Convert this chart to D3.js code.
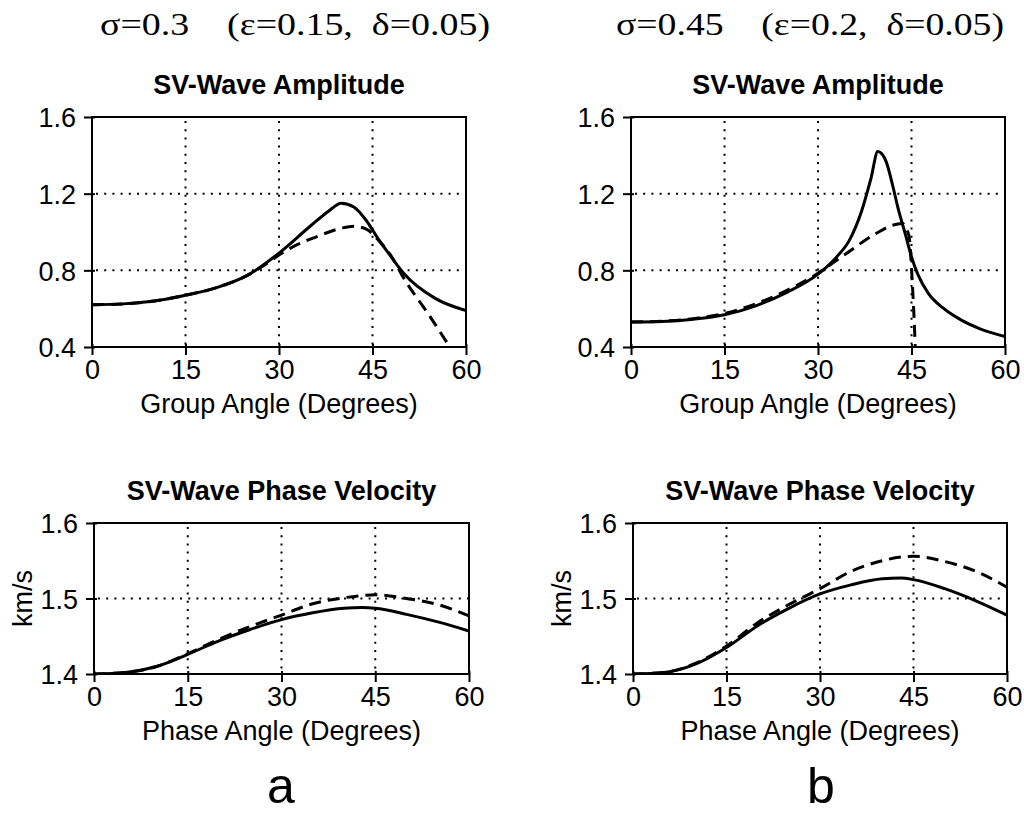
<!DOCTYPE html>
<html>
<head>
<meta charset="utf-8">
<script src="https://cdn.jsdelivr.net/npm/d3@7"></script>
<style>
  html, body { margin: 0; padding: 0; background: #fff; }
  svg { display: block; }
  text { fill: #000; }
</style>
</head>
<body>
<svg id="chart" width="1024" height="815"></svg>
<script>
// ---- data -------------------------------------------------------------
const angleTicks = [0, 15, 30, 45, 60];
const ampTicks = [0.4, 0.8, 1.2, 1.6];
const velTicks = [1.4, 1.5, 1.6];

// (a) sigma = 0.3 : SV-wave amplitude vs group angle
const ampAnglesA_exact = [0, 5, 10, 15, 20, 25, 30, 35, 38, 40, 42, 44, 46, 48, 50, 55, 60];
const ampValuesA_exact = [0.62, 0.625, 0.64, 0.67, 0.71, 0.775, 0.89, 1.03, 1.11, 1.15, 1.13, 1.06, 0.96, 0.87, 0.785, 0.655, 0.59];
const ampAnglesA_weak = [0, 5, 10, 15, 20, 25, 28, 30, 33, 36, 40, 42, 44, 46, 48, 50, 54, 57];
const ampValuesA_weak = [0.62, 0.625, 0.64, 0.67, 0.71, 0.775, 0.835, 0.88, 0.935, 0.975, 1.02, 1.03, 1.015, 0.955, 0.875, 0.76, 0.57, 0.42];

// (b) sigma = 0.45 : SV-wave amplitude vs group angle
const ampAnglesB_exact = [0, 5, 10, 15, 20, 25, 30, 33, 35, 37, 38.5, 39.6, 40.9, 42, 42.8, 44, 45, 46, 47.7, 50, 53, 56, 60];
const ampValuesB_exact = [0.53, 0.533, 0.545, 0.568, 0.615, 0.685, 0.78, 0.87, 0.955, 1.11, 1.28, 1.42, 1.37, 1.24, 1.13, 0.99, 0.87, 0.78, 0.68, 0.605, 0.54, 0.495, 0.455];
const ampAnglesB_weak = [0, 5, 10, 15, 20, 25, 30, 34.2, 39.2, 41.9, 43.5, 44.6, 45.1, 45.4, 45.6];
const ampValuesB_weak = [0.53, 0.535, 0.548, 0.575, 0.625, 0.695, 0.785, 0.88, 0.99, 1.035, 1.045, 0.98, 0.75, 0.56, 0.40];

// (a) sigma = 0.3 : SV-wave phase velocity vs phase angle (km/s)
const velAngles = [0, 5, 10, 15, 20, 25, 30, 35, 40, 43, 45, 50, 55, 60];
const velValuesA_exact = [1.4, 1.402, 1.41, 1.426, 1.444, 1.459, 1.472, 1.481, 1.487, 1.488, 1.487, 1.479, 1.469, 1.457];
const velValuesA_weak = [1.4, 1.402, 1.41, 1.427, 1.446, 1.463, 1.478, 1.493, 1.501, 1.504, 1.505, 1.5, 1.492, 1.477];

// (b) sigma = 0.45 : SV-wave phase velocity vs phase angle (km/s)
const velValuesB_exact = [1.4, 1.402, 1.413, 1.435, 1.464, 1.487, 1.506, 1.518, 1.526, 1.527, 1.525, 1.513, 1.497, 1.478];
const velValuesB_weak = [1.4, 1.402, 1.414, 1.437, 1.468, 1.492, 1.513, 1.536, 1.55, 1.555, 1.556, 1.549, 1.536, 1.515];

// ---- drawing ----------------------------------------------------------
const svg = d3.select("#chart");
const SANS = "'Liberation Sans', Arial, Helvetica, sans-serif";
const SERIF = "'Liberation Serif', 'Times New Roman', serif";

function zip(xs, ys) { return xs.map((x, i) => [x, ys[i]]); }

let clipCount = 0;
function panel(opt) {
  const x = d3.scaleLinear().domain([0, 60]).range([opt.left, opt.right]);
  const y = d3.scaleLinear().domain(opt.yDomain).range([opt.bottom, opt.top]);
  const g = svg.append("g");

  // dotted grid
  g.selectAll("line.vgrid").data([15, 30, 45]).join("line")
    .attr("x1", d => x(d)).attr("x2", d => x(d))
    .attr("y1", opt.top + 4).attr("y2", opt.bottom)
    .attr("stroke", "#000").attr("stroke-width", 2)
    .attr("stroke-dasharray", "2,6.2");
  g.selectAll("line.hgrid").data(opt.yGrid).join("line")
    .attr("x1", opt.left + 4).attr("x2", opt.right)
    .attr("y1", d => y(d)).attr("y2", d => y(d))
    .attr("stroke", "#000").attr("stroke-width", 2)
    .attr("stroke-dasharray", "2,6.2");

  // curves
  const id = "clip" + (clipCount++);
  svg.append("clipPath").attr("id", id).append("rect")
    .attr("x", opt.left).attr("y", opt.top)
    .attr("width", opt.right - opt.left).attr("height", opt.bottom - opt.top);
  const line = d3.line().x(d => x(d[0])).y(d => y(d[1])).curve(d3.curveMonotoneX);
  const cg = g.append("g").attr("clip-path", `url(#${id})`);
  cg.append("path").datum(opt.weak).attr("d", line)
    .attr("fill", "none").attr("stroke", "#000").attr("stroke-width", 3)
    .attr("stroke-dasharray", "12,7");
  cg.append("path").datum(opt.exact).attr("d", line)
    .attr("fill", "none").attr("stroke", "#000").attr("stroke-width", 3);

  // frame
  g.append("rect")
    .attr("x", opt.left).attr("y", opt.top)
    .attr("width", opt.right - opt.left).attr("height", opt.bottom - opt.top)
    .attr("fill", "none").attr("stroke", "#000").attr("stroke-width", 2);

  // axes
  const xa = g.append("g").attr("transform", `translate(0,${opt.bottom})`)
    .call(d3.axisBottom(x).tickValues(angleTicks).tickSizeInner(8).tickSizeOuter(0).tickPadding(5));
  xa.select(".domain").remove();
  xa.selectAll(".tick line").attr("y1", -3).attr("stroke-width", 2);
  xa.selectAll(".tick text")
    .attr("font-family", SANS).attr("font-size", 27).attr("dy", "0.72em");

  const ya = g.append("g").attr("transform", `translate(${opt.left},0)`)
    .call(d3.axisLeft(y).tickValues(opt.yTicks).tickSizeInner(8).tickSizeOuter(0)
      .tickPadding(8).tickFormat(d3.format(".1f")));
  ya.select(".domain").remove();
  ya.selectAll(".tick line").attr("x1", 3).attr("stroke-width", 2);
  ya.selectAll(".tick text")
    .attr("font-family", SANS).attr("font-size", 27).attr("dy", "0.36em");

  const cx = (opt.left + opt.right) / 2;
  g.append("text").attr("x", cx).attr("y", opt.top - 23)
    .attr("text-anchor", "middle").attr("font-family", SANS)
    .attr("font-weight", "bold").attr("font-size", 27).text(opt.title);
  g.append("text").attr("x", cx).attr("y", opt.bottom + 66)
    .attr("text-anchor", "middle").attr("font-family", SANS)
    .attr("font-size", 27).text(opt.xLabel);
  if (opt.yLabel) {
    g.append("text")
      .attr("transform", `translate(${opt.left - 62},${y(1.5)}) rotate(-90)`)
      .attr("text-anchor", "middle").attr("font-family", SANS)
      .attr("font-size", 27).text(opt.yLabel);
  }
}

// column headers
function header(cx, label, width) {
  svg.append("text").attr("x", cx).attr("y", 35).attr("text-anchor", "middle")
    .attr("font-family", SERIF).attr("font-size", 32).style("white-space", "pre")
    .attr("textLength", width).attr("lengthAdjust", "spacingAndGlyphs")
    .text(label);
}
header(295, "σ=0.3    (ε=0.15,  δ=0.05)", 390);
header(810, "σ=0.45    (ε=0.2,  δ=0.05)", 388);

panel({ left: 92, right: 466, top: 117, bottom: 347, yDomain: [0.4, 1.6],
  yTicks: ampTicks, yGrid: [0.8, 1.2],
  exact: zip(ampAnglesA_exact, ampValuesA_exact), weak: zip(ampAnglesA_weak, ampValuesA_weak),
  title: "SV-Wave Amplitude", xLabel: "Group Angle (Degrees)" });
panel({ left: 631, right: 1005, top: 117, bottom: 347, yDomain: [0.4, 1.6],
  yTicks: ampTicks, yGrid: [0.8, 1.2],
  exact: zip(ampAnglesB_exact, ampValuesB_exact), weak: zip(ampAnglesB_weak, ampValuesB_weak),
  title: "SV-Wave Amplitude", xLabel: "Group Angle (Degrees)" });
panel({ left: 94, right: 469, top: 523, bottom: 674, yDomain: [1.4, 1.6],
  yTicks: velTicks, yGrid: [1.5],
  exact: zip(velAngles, velValuesA_exact), weak: zip(velAngles, velValuesA_weak),
  title: "SV-Wave Phase Velocity", xLabel: "Phase Angle (Degrees)", yLabel: "km/s" });
panel({ left: 633, right: 1007, top: 523, bottom: 674, yDomain: [1.4, 1.6],
  yTicks: velTicks, yGrid: [1.5],
  exact: zip(velAngles, velValuesB_exact), weak: zip(velAngles, velValuesB_weak),
  title: "SV-Wave Phase Velocity", xLabel: "Phase Angle (Degrees)", yLabel: "km/s" });

// panel letters
svg.append("text").attr("x", 281).attr("y", 803).attr("text-anchor", "middle")
  .attr("font-family", SANS).attr("font-size", 50).text("a");
svg.append("text").attr("x", 821).attr("y", 803).attr("text-anchor", "middle")
  .attr("font-family", SANS).attr("font-size", 50).text("b");
</script>
</body>
</html>
